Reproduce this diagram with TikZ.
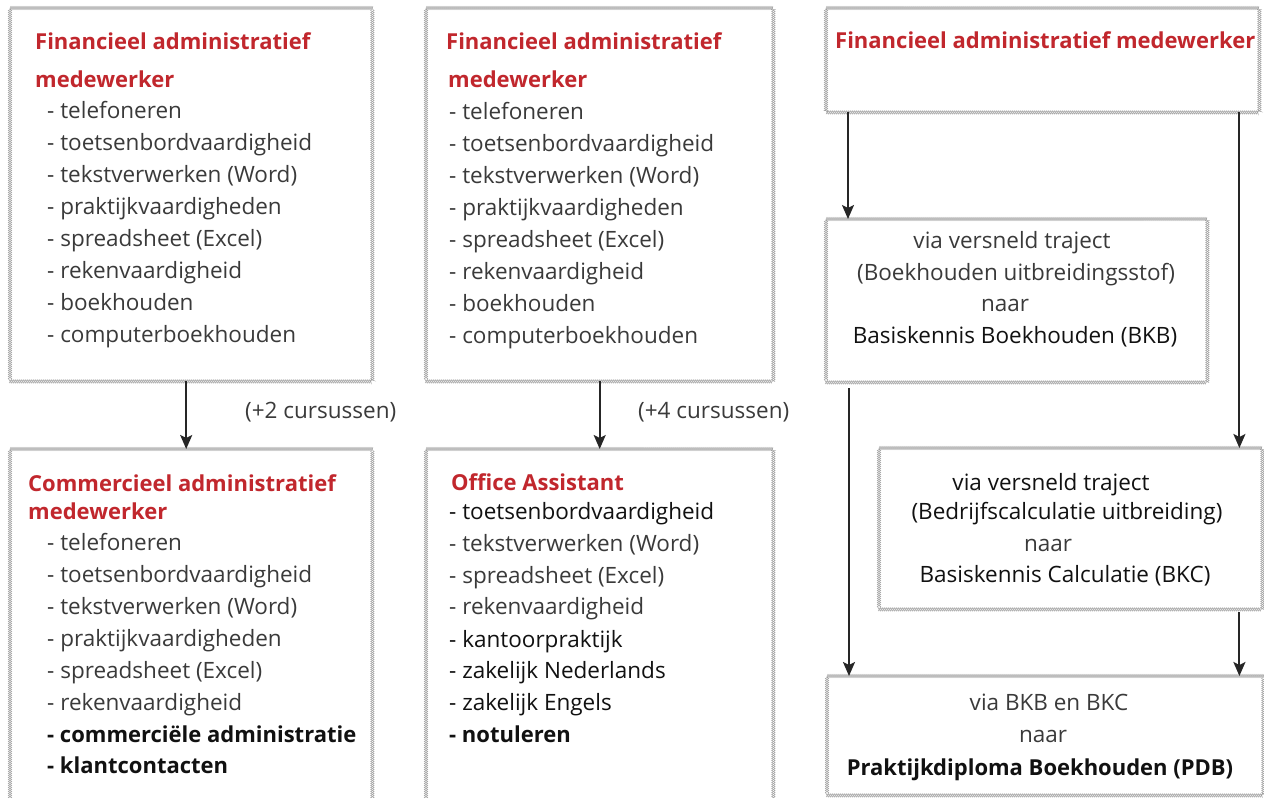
\documentclass[tikz,border=0pt]{standalone}
\usepackage{fontspec}
\setmainfont{Open Sans}
\usetikzlibrary{decorations.pathmorphing,arrows.meta}
\definecolor{cred}{HTML}{C1272D}
\definecolor{clight}{HTML}{3A3A3A}
\definecolor{creg}{HTML}{111111}
\definecolor{cgray}{HTML}{A0A0A0}
\definecolor{carrow}{HTML}{262626}
\tikzset{
  chainline/.style={draw=cgray, line width=0.5pt, decorate,
    decoration={zigzag, segment length=4pt, amplitude=1.7pt}},
  chainmirror/.style={draw=cgray, line width=0.5pt, decorate,
    decoration={zigzag, segment length=4pt, amplitude=1.7pt, mirror}},
  box/.style={inner sep=0pt, anchor=north west},
  txt/.style={inner sep=0pt, font=\fontsize{22.5}{27}\selectfont},
  tl/.style={txt, text=clight},
  tr/.style={txt, text=creg},
  tb/.style={txt, text=creg, font=\fontsize{22}{27}\selectfont\bfseries},
  tt/.style={txt, text=cred, font=\fontsize{22}{27}\selectfont\bfseries},
  arr/.style={draw=carrow, line width=2pt, -{Stealth[length=14pt, width=12pt, inset=3pt]}},
}
\newcommand\chainbox[1]{%
  \draw[chainline] (#1.north west) -- (#1.north east) -- (#1.south east) -- (#1.south west) -- cycle;
  \draw[chainmirror] (#1.north west) -- (#1.north east) -- (#1.south east) -- (#1.south west) -- cycle;}
\begin{document}
\begin{tikzpicture}[x=1pt, y=-1pt]
\useasboundingbox[fill=white] (0,0) rectangle (1264,798);
% boxes
\node[box, minimum width=362pt, minimum height=373pt] (b1) at (10,8) {};
\node[box, minimum width=347pt, minimum height=373pt] (b2) at (426,8) {};
\node[box, minimum width=433pt, minimum height=104pt] (b3) at (826,8) {};
\node[box, minimum width=362pt, minimum height=362pt] (b4) at (10,449) {};
\node[box, minimum width=347pt, minimum height=362pt] (b5) at (426,449) {};
\node[box, minimum width=381pt, minimum height=163pt] (b6) at (826,219) {};
\node[box, minimum width=383pt, minimum height=161pt] (b7) at (879,448) {};
\node[box, minimum width=436pt, minimum height=119pt] (b8) at (827,676) {};
\chainbox{b1}\chainbox{b2}\chainbox{b3}\chainbox{b4}
\chainbox{b5}\chainbox{b6}\chainbox{b7}\chainbox{b8}

% box 1
\node[tt, anchor=base west] (t1a) at (35,49) {Financieel administratief};
\node[tt, anchor=base west] (t1b) at (35,87) {medewerker};
\node[tl, anchor=base west] (i1a) at (47,118) {- telefoneren};
\node[tl, anchor=base west] (i1b) at (47,150) {- toetsenbordvaardigheid};
\node[tl, anchor=base west] (i1c) at (47,182) {- tekstverwerken (Word)};
\node[tl, anchor=base west] (i1d) at (47,214) {- praktijkvaardigheden};
\node[tl, anchor=base west] (i1e) at (47,246) {- spreadsheet (Excel)};
\node[tl, anchor=base west] (i1f) at (47,278) {- rekenvaardigheid};
\node[tl, anchor=base west] (i1g) at (47,310) {- boekhouden};
\node[tl, anchor=base west] (i1h) at (47,342) {- computerboekhouden};

% box 2
\node[tt, anchor=base west] (t2a) at (446,49) {Financieel administratief};
\node[tt, anchor=base west] (t2b) at (448,87) {medewerker};
\node[tl, anchor=base west] (i2a) at (449,119) {- telefoneren};
\node[tl, anchor=base west] (i2b) at (449,151) {- toetsenbordvaardigheid};
\node[tl, anchor=base west] (i2c) at (449,183) {- tekstverwerken (Word)};
\node[tl, anchor=base west] (i2d) at (449,215) {- praktijkvaardigheden};
\node[tl, anchor=base west] (i2e) at (449,247) {- spreadsheet (Excel)};
\node[tl, anchor=base west] (i2f) at (449,279) {- rekenvaardigheid};
\node[tl, anchor=base west] (i2g) at (449,311) {- boekhouden};
\node[tl, anchor=base west] (i2h) at (449,343) {- computerboekhouden};

% box 3
\node[tt, anchor=base west] (t3) at (835,48) {Financieel administratief medewerker};

% box 4
\node[tt, anchor=base west] (t4a) at (28,491) {Commercieel administratief};
\node[tt, anchor=base west] (t4b) at (28,519) {medewerker};
\node[tl, anchor=base west] (i4a) at (47,550) {- telefoneren};
\node[tl, anchor=base west] (i4b) at (47,582) {- toetsenbordvaardigheid};
\node[tl, anchor=base west] (i4c) at (47,614) {- tekstverwerken (Word)};
\node[tl, anchor=base west] (i4d) at (47,646) {- praktijkvaardigheden};
\node[tl, anchor=base west] (i4e) at (47,678) {- spreadsheet (Excel)};
\node[tl, anchor=base west] (i4f) at (47,710) {- rekenvaardigheid};
\node[tb, anchor=base west] (i4g) at (47,742) {- commerciële administratie};
\node[tb, anchor=base west] (i4h) at (47,773) {- klantcontacten};

% box 5
\node[tt, anchor=base west] (t5) at (451,490) {Office Assistant};
\node[tr, anchor=base west] (i5a) at (449,519) {- toetsenbordvaardigheid};
\node[tl, anchor=base west] (i5b) at (449,551) {- tekstverwerken (Word)};
\node[tl, anchor=base west] (i5c) at (449,583) {- spreadsheet (Excel)};
\node[tl, anchor=base west] (i5d) at (449,614) {- rekenvaardigheid};
\node[tr, anchor=base west] (i5e) at (449,647) {- kantoorpraktijk};
\node[tr, anchor=base west] (i5f) at (449,678) {- zakelijk Nederlands};
\node[tr, anchor=base west] (i5g) at (449,710) {- zakelijk Engels};
\node[tb, anchor=base west] (i5h) at (449,742) {- notuleren};

% box 6
\node[tl, anchor=base] (t6a) at (1012,248) {via versneld traject};
\node[tl, anchor=base] (t6b) at (1016,280) {(Boekhouden uitbreidingsstof)};
\node[tl, anchor=base] (t6c) at (1005,311) {naar};
\node[tr, anchor=base] (t6d) at (1015,343) {Basiskennis Boekhouden (BKB)};

% box 7
\node[tr, anchor=base] (t7a) at (1051,490) {via versneld traject};
\node[tr, anchor=base] (t7b) at (1067,519) {(Bedrijfscalculatie uitbreiding)};
\node[tl, anchor=base] (t7c) at (1048,551) {naar};
\node[tr, anchor=base] (t7d) at (1065,582) {Basiskennis Calculatie (BKC)};

% box 8
\node[tl, anchor=base] (t8a) at (1049,710) {via BKB en BKC};
\node[tl, anchor=base] (t8b) at (1043,742) {naar};
\node[tb, anchor=base] (t8c) at (1040,775) {Praktijkdiploma Boekhouden (PDB)};

% arrow labels
\node[tl, anchor=base west] (l1) at (245,418) {(+2 cursussen)};
\node[tl, anchor=base west] (l2) at (638,418) {(+4 cursussen)};

% arrows
\draw[arr] ([xshift=-5pt]b1.south) -- ([xshift=-5pt]b4.north);
\draw[arr] (b2.south) -- (b5.north);
\draw[arr] ([xshift=22pt]b3.south west) -- ([xshift=22pt]b3.south west |- b6.north);
\draw[arr] ([xshift=-20pt]b3.south east) -- ([xshift=-20pt]b3.south east |- b7.north);
\draw[arr] ([xshift=23pt, yshift=-6pt]b6.south west) -- ([xshift=23pt]b6.south west |- b8.north);
\draw[arr] ([xshift=-23pt, yshift=-3pt]b7.south east) -- ([xshift=-23pt]b7.south east |- b8.north);
\end{tikzpicture}
\end{document}
